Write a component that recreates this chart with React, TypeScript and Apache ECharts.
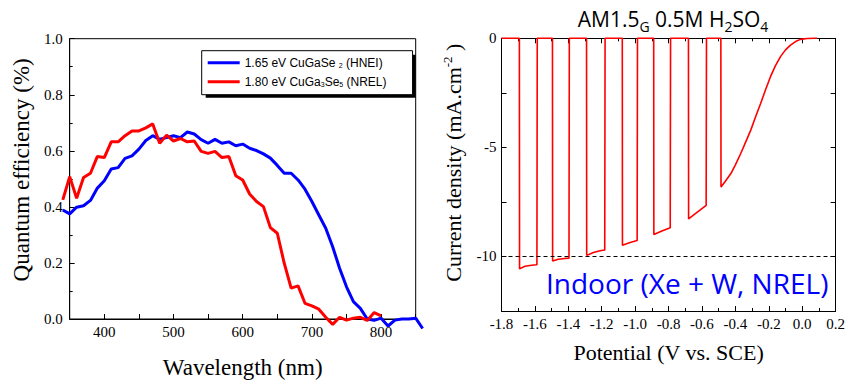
import React, { useEffect, useRef } from "react";
import * as echarts from "echarts";

// ---------- Left panel: quantum efficiency ----------
const wavelengthsHNEI = [
  340, 350, 360, 370, 380, 390, 400, 410, 420, 430, 440, 450, 460, 470, 480, 490, 500, 510,
  520, 530, 540, 550, 560, 570, 580, 590, 600, 610, 620, 630, 640, 650, 660, 670, 680, 690,
  700, 710, 720, 730, 740, 750, 760, 770, 780, 790, 800, 810, 820, 830, 840, 850, 860,
];
const qeHNEI = [
  0.389, 0.375, 0.399, 0.404, 0.423, 0.467, 0.493, 0.535, 0.54, 0.573, 0.582, 0.606, 0.637,
  0.654, 0.641, 0.647, 0.654, 0.647, 0.667, 0.66, 0.64, 0.627, 0.641, 0.627, 0.632, 0.618,
  0.624, 0.609, 0.601, 0.589, 0.574, 0.548, 0.52, 0.52, 0.496, 0.463, 0.419, 0.371, 0.324,
  0.258, 0.181, 0.115, 0.062, 0.038, 0.0, -0.005, 0.003, -0.025, -0.004, 0.0, 0.0, 0.003, -0.034,
];
const wavelengthsNREL = [
  340, 350, 360, 370, 380, 390, 400, 410, 420, 430, 440, 450, 460, 470, 480, 490, 500, 510,
  520, 530, 540, 550, 560, 570, 580, 590, 600, 610, 620, 630, 640, 650, 660, 670, 680, 690,
  700, 710, 720, 730, 740, 750, 760, 770, 780, 790, 800,
];
const qeNREL = [
  0.425, 0.508, 0.431, 0.505, 0.52, 0.58, 0.576, 0.632, 0.632, 0.654, 0.671, 0.671, 0.682,
  0.696, 0.627, 0.656, 0.635, 0.644, 0.632, 0.635, 0.598, 0.591, 0.598, 0.576, 0.58, 0.511,
  0.496, 0.446, 0.419, 0.401, 0.326, 0.306, 0.199, 0.11, 0.118, 0.056, 0.047, 0.035, 0.006,
  -0.019, 0.006, -0.004, 0.003, 0.006, -0.005, 0.023, 0.011,
];
const seriesNames = ["1.65 eV CuGaSe2 (HNEI)", "1.80 eV CuGa3Se5 (NREL)"];
const legendRich: Record<string, string> = {
  "1.65 eV CuGaSe2 (HNEI)": "1.65 eV CuGaSe {s|2} (HNEI)",
  "1.80 eV CuGa3Se5 (NREL)": "1.80 eV CuGa{s|3}Se{s|5} (NREL)",
};

// ---------- Right panel: chopped J-V ----------
const potentialV = [
  -1.8, -1.693, -1.692, -1.66, -1.62, -1.588, -1.586,
  -1.495, -1.494, -1.46, -1.42, -1.396, -1.394,
  -1.291, -1.29, -1.25, -1.21, -1.182, -1.18,
  -1.077, -1.076, -1.03, -0.988, -0.986,
  -0.889, -0.888, -0.84, -0.79, -0.788,
  -0.681, -0.68, -0.63, -0.575, -0.573,
  -0.487, -0.486, -0.46, -0.427, -0.4, -0.368, -0.338, -0.308, -0.279, -0.249, -0.22,
  -0.19, -0.16, -0.13, -0.1, -0.07, -0.04, -0.011, 0.03, 0.075, 0.09,
];
const currentDensity = [
  0, 0, -10.57, -10.45, -10.4, -10.38, 0,
  0, -10.21, -10.13, -10.09, -10.08, 0,
  0, -9.95, -9.82, -9.74, -9.7, 0,
  0, -9.49, -9.36, -9.27, 0,
  0, -8.99, -8.83, -8.68, 0,
  0, -8.28, -7.98, -7.66, 0,
  0, -6.82, -6.55, -6.2, -5.8, -5.28, -4.75, -4.21, -3.6, -2.99, -2.37,
  -1.76, -1.25, -0.84, -0.53, -0.31, -0.15, -0.05, -0.01, 0, 0,
];
const referenceLine = -10;

// title pieces: [text, isSubscript]
const titleParts: [string, boolean][] = [
  ["AM1.5", false], ["G", true], [" 0.5M H", false], ["2", true], ["SO", false], ["4", true],
];
const annotation = "Indoor (Xe + W, NREL)";

const SERIF = "Liberation Serif";
const SANS = "Liberation Sans";
const CAL = "Open Sans";

// left panel geometry (visible axes 350-850 / 0-1); data drawn in a wider, hidden
// grid (340-860 / -0.1-1) with identical scale so the curves may run past the frame.
const G0 = { left: 69.7, top: 38.7, width: 346, height: 280.3 };
const pxPerNm = G0.width / 500;
const pxPerQE = G0.height / 1;

// serif sizes used by axis labels / names (others are sans by design)
const serifSizes = [13, 15, 22, 23];
const serifCss = serifSizes
  .map((s) =>
    [
      `.chart-root text[style*="font-size: ${s}px"]`,
      `.chart-root text[style*="font-size:${s}px"]`,
      `.chart-root text[font-size="${s}"]`,
      `.chart-root text[font-size="${s}px"]`,
    ].join(", ")
  )
  .join(", ") + ` { font-family: "${SERIF}", "Times New Roman", serif !important; }`;

export default function App() {
  const ref = useRef<HTMLDivElement>(null);

  useEffect(() => {
    if (!ref.current) return;
    const chart = echarts.init(ref.current, undefined, { renderer: "svg" });

    const black = "#000";
    const axisCommon = {
      axisLine: { show: true, onZero: false, lineStyle: { color: black, width: 1 } },
      axisTick: { show: true, inside: true, length: 5, lineStyle: { color: black, width: 1 } },
      splitLine: { show: false },
    };
    const hiddenAxis = {
      show: false,
      axisLine: { show: false }, axisTick: { show: false }, axisLabel: { show: false },
      splitLine: { show: false },
    };
    const tickLabel = { fontFamily: SERIF, fontSize: 15, color: black };
    const nameStyle = { fontFamily: SERIF, fontSize: 23, color: black };

    // compose the title from plain text pieces (measured), subscripts lowered
    const ctx = document.createElement("canvas").getContext("2d");
    const sizes = titleParts.map(([t, sub]) => {
      const fs = sub ? 14 : 21;
      let w = t.length * fs * 0.55;
      if (ctx) {
        ctx.font = `${fs}px "${CAL}"`;
        w = ctx.measureText(t).width;
      }
      return { fs, w };
    });
    const totalW = sizes.reduce((s, v) => s + v.w, 0);
    let cursor = 673 - totalW / 2;
    const titleEls = titleParts.map(([t, sub], i) => {
      const el = {
        type: "text", x: cursor, y: sub ? 26 : 19, z: 10,
        style: {
          text: t, fontFamily: CAL, fontSize: sizes[i].fs, fill: black,
          align: "left", verticalAlign: "middle",
        },
      };
      cursor += sizes[i].w;
      return el;
    });

    const option: any = {
      animation: false,
      backgroundColor: "#fff",
      textStyle: { fontFamily: SERIF, color: black },
      grid: [
        {
          ...G0,
          show: true, borderColor: black, borderWidth: 1, backgroundColor: "transparent",
        },
        { left: 501.5, top: 38.3, width: 336.2, height: 272.7 },
        {
          left: G0.left - 10 * pxPerNm, top: G0.top,
          width: G0.width + 20 * pxPerNm, height: G0.height + 0.1 * pxPerQE,
        },
      ],
      xAxis: [
        {
          gridIndex: 0, type: "value", min: 350, max: 850, interval: 50,
          ...axisCommon,
          axisLabel: {
            ...tickLabel, margin: 5,
            formatter: (v: number) => (v % 100 === 0 && v > 350 && v < 850 ? String(v) : ""),
          },
          name: "Wavelength (nm)", nameLocation: "middle", nameGap: 37,
          nameTextStyle: { ...nameStyle },
        },
        {
          gridIndex: 1, type: "value", min: -1.8, max: 0.2, interval: 0.2,
          ...axisCommon,
          minorTick: { show: true, splitNumber: 2, length: 3, lineStyle: { color: black } },
          axisLabel: {
            ...tickLabel, margin: 5,
            formatter: (v: number) => (Math.abs(v) < 1e-9 ? 0 : v).toFixed(1),
          },
          name: "Potential (V vs. SCE)", nameLocation: "middle", nameGap: 30,
          nameTextStyle: { ...nameStyle, fontSize: 22 },
        },
        {
          gridIndex: 1, type: "value", min: -1.8, max: 0.2, interval: 0.2, position: "top",
          ...axisCommon,
          minorTick: { show: true, splitNumber: 2, length: 3, lineStyle: { color: black } },
          axisLabel: { show: false },
        },
        { gridIndex: 2, type: "value", min: 340, max: 860, ...hiddenAxis },
      ],
      yAxis: [
        {
          gridIndex: 0, type: "value", min: 0, max: 1, interval: 0.2,
          ...axisCommon,
          minorTick: { show: true, splitNumber: 2, length: 3, lineStyle: { color: black } },
          axisLabel: { ...tickLabel, margin: 7, formatter: (v: number) => v.toFixed(1) },
          name: "Quantum efficiency (%)", nameLocation: "middle", nameGap: 37,
          nameTextStyle: { ...nameStyle, padding: [0, 0, 0, 18] },
        },
        {
          gridIndex: 1, type: "value", min: -12.5, max: 0, interval: 2.5,
          ...axisCommon,
          axisLabel: {
            ...tickLabel, margin: 5,
            formatter: (v: number) => (v % 5 === 0 ? String(v) : ""),
          },
          name: "{a|Current density (mA.cm}{p|-2}{a| )}",
          nameLocation: "middle", nameGap: 36,
          nameTextStyle: {
            ...nameStyle, fontSize: 22, padding: [0, 0, 0, 24],
            rich: {
              a: { fontFamily: SERIF, fontSize: 22, color: black },
              p: { fontFamily: SERIF, fontSize: 13, color: black, padding: [0, 0, 12, 0] },
            },
          },
        },
        {
          gridIndex: 1, type: "value", min: -12.5, max: 0, interval: 2.5, position: "right",
          ...axisCommon,
          axisLabel: { show: false },
        },
        { gridIndex: 2, type: "value", min: -0.1, max: 1, ...hiddenAxis },
      ],
      legend: {
        data: seriesNames,
        orient: "vertical",
        left: 201.7, top: 50.7,
        padding: [5, 26, 6, 6],
        itemGap: 5,
        icon: "rect",
        itemWidth: 32, itemHeight: 3,
        backgroundColor: "#fff",
        borderColor: black, borderWidth: 1, borderRadius: 0,
        formatter: (name: string) => legendRich[name] || name,
        textStyle: {
          fontFamily: SANS, fontSize: 12, color: black, lineHeight: 14,
          rich: { s: { fontFamily: SANS, fontSize: 7, color: black, padding: [6, 0, 0, 0] } },
        },
      },
      graphic: [
        {
          type: "rect", z: 1,
          shape: { x: 205.7, y: 54.7, width: 210, height: 43 },
          style: { fill: black },
        },
        ...titleEls,
        {
          type: "text", x: 546, y: 283, z: 10,
          style: {
            text: annotation,
            fontFamily: CAL, fontSize: 28, fill: "#0000ff",
            align: "left", verticalAlign: "middle",
          },
        },
      ],
      series: [
        {
          name: seriesNames[0], type: "line", xAxisIndex: 3, yAxisIndex: 3,
          data: wavelengthsHNEI.map((w, i) => [w, qeHNEI[i]]),
          showSymbol: false, symbol: "none", clip: false,
          color: "#0000ff", lineStyle: { color: "#0000ff", width: 3 },
        },
        {
          name: seriesNames[1], type: "line", xAxisIndex: 3, yAxisIndex: 3,
          data: wavelengthsNREL.map((w, i) => [w, qeNREL[i]]),
          showSymbol: false, symbol: "none", clip: false,
          color: "#ff0000", lineStyle: { color: "#ff0000", width: 3 },
        },
        {
          name: "J-V", type: "line", xAxisIndex: 1, yAxisIndex: 1,
          data: potentialV.map((p, i) => [p, currentDensity[i]]),
          showSymbol: false, symbol: "none", clip: false,
          color: "#ff0000", lineStyle: { color: "#ff0000", width: 1.6 },
          markLine: {
            silent: true, symbol: ["none", "none"], label: { show: false },
            lineStyle: { color: black, type: [4, 3], width: 1 },
            data: [{ yAxis: referenceLine }],
          },
        },
      ],
    };

    chart.setOption(option);
    return () => chart.dispose();
  }, []);

  return (
    <div
      className="chart-root"
      style={{ position: "fixed", left: 0, top: 0, width: 848, height: 384, background: "#fff" }}
    >
      <style>{serifCss}</style>
      <div ref={ref} style={{ width: 848, height: 384 }} />
    </div>
  );
}
